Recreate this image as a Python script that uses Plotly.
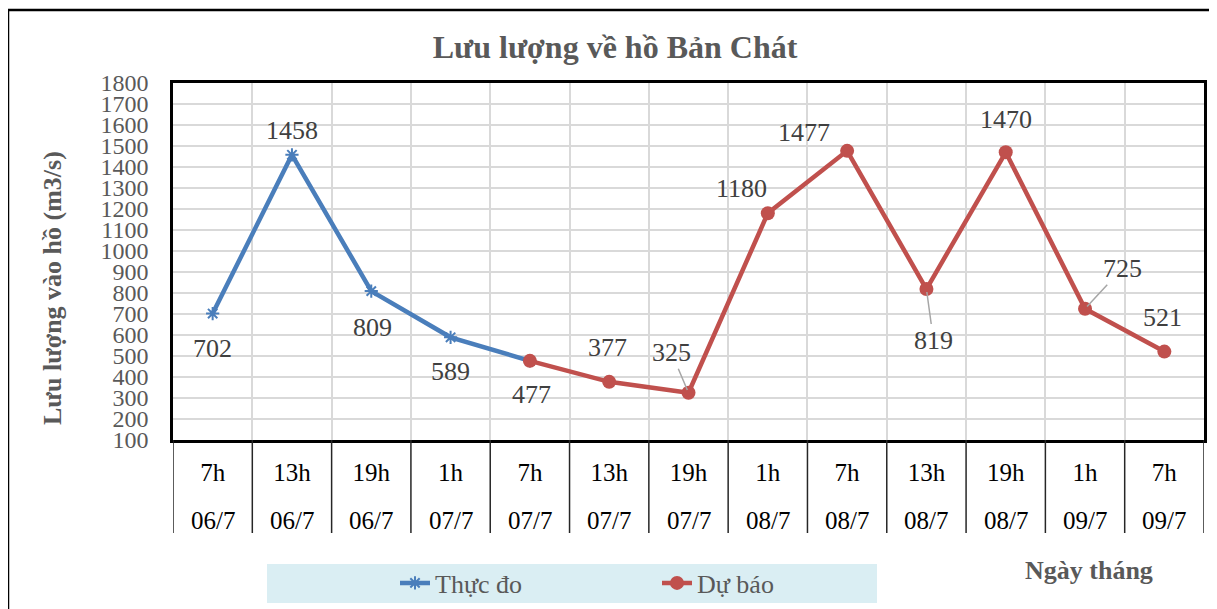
import plotly.graph_objects as go

# ---- data ----
hours = ["7h", "13h", "19h", "1h", "7h", "13h", "19h", "1h", "7h", "13h", "19h", "1h", "7h"]
dates = ["06/7", "06/7", "06/7", "07/7", "07/7", "07/7", "07/7", "08/7", "08/7", "08/7", "08/7", "09/7", "09/7"]
thuc_do_idx = [0, 1, 2, 3, 4]
thuc_do = [702, 1458, 809, 589, 477]
du_bao_idx = [4, 5, 6, 7, 8, 9, 10, 11, 12]
du_bao = [477, 377, 325, 1180, 1477, 819, 1470, 725, 521]
y_ticks = list(range(100, 1900, 100))

# ---- styling / geometry (page has an 8px body margin) ----
OFF = 8
W, H = 1217 - OFF, 609 - OFF
PL, PT, PR, PB = 173, 83, 1204, 440  # plot box in page pixels
L, T = PL - OFF, PT - OFF
R = W - (PR - OFF)
B = H - (PB - OFF)
PH = PB - PT
PW = PR - PL
FONT = "Liberation Serif"
BLUE = "#4A7EBB"
RED = "#C0504D"

def px_x(p):
    return (p - PL) / PW

def px_y(p):
    return (PB - p) / PH

fig = go.Figure()
fig.add_trace(go.Scatter(
    x=thuc_do_idx, y=thuc_do, mode="lines+markers", name="Thực đo",
    line=dict(color=BLUE, width=4.5),
    marker=dict(symbol="asterisk-open", size=11, line=dict(color=BLUE, width=2), color=BLUE),
))
fig.add_trace(go.Scatter(
    x=du_bao_idx, y=du_bao, mode="lines+markers", name="Dự báo",
    line=dict(color=RED, width=4.5),
    marker=dict(symbol="circle", size=14, color=RED),
))

# label offsets (screen px: dx right, dy down); arrow = leader line
label_pos = {
    0: (0, 35, False), 1: (0, -24, False), 2: (1, 36, False), 3: (0, 34, False),
    4: (2, 34, False), 5: (-2, -34, False), 6: (-17, -40, True), 7: (-26, -25, False),
    8: (-43, -18, False), 9: (7, 51, True), 10: (0, -33, False), 11: (37, -40, True),
    12: (-2, -34, False),
}
all_idx = thuc_do_idx + du_bao_idx[1:]
all_val = thuc_do + du_bao[1:]
annotations = []
for i, v in zip(all_idx, all_val):
    dx, dy, arrow = label_pos[i]
    common = dict(x=i, y=v, xref="x", yref="y", text=str(v),
                  font=dict(family=FONT, size=26, color="#404040"))
    if arrow:
        annotations.append(dict(**common, showarrow=True, ax=dx, ay=dy, arrowhead=0,
                                arrowwidth=1.5, arrowcolor="#A6A6A6", standoff=3))
    else:
        annotations.append(dict(**common, showarrow=False, xshift=dx, yshift=-dy,
                                xanchor="center", yanchor="middle"))

# date row under hour labels
for i, d in enumerate(dates):
    annotations.append(dict(x=i, y=px_y(520), xref="x", yref="paper", text=d, showarrow=False,
                            xanchor="center", yanchor="middle",
                            font=dict(family=FONT, size=25, color="#000000")))

annotations.append(dict(x=px_x(52), y=px_y(288), xref="paper", yref="paper",
                        text="<b>Lưu lượng vào hồ (m3/s)</b>", textangle=-90, showarrow=False,
                        xanchor="center", yanchor="middle",
                        font=dict(family=FONT, size=26, color="#595959")))
annotations.append(dict(x=px_x(1089), y=px_y(570), xref="paper", yref="paper",
                        text="<b>Ngày tháng</b>", showarrow=False, xanchor="center", yanchor="middle",
                        font=dict(family=FONT, size=26, color="#595959")))

shapes = []
# outer chart border
shapes.append(dict(type="rect", xref="paper", yref="paper", x0=px_x(8), x1=1.2,
                   y0=-0.8, y1=px_y(10), line=dict(color="#000000", width=2.5), layer="below"))
# legend background
shapes.append(dict(type="rect", xref="paper", yref="paper", x0=px_x(267), x1=px_x(877),
                   y0=px_y(603), y1=px_y(564), fillcolor="#DAEEF3", line=dict(width=0), layer="below"))
# category separators below plot
for k in range(len(hours) + 1):
    shapes.append(dict(type="line", xref="x", yref="paper", x0=k - 0.5, x1=k - 0.5,
                       y0=0, y1=px_y(533), line=dict(color="#262626", width=1.5)))

fig.update_layout(
    width=W, height=H,
    margin=dict(l=L, r=R, t=T, b=B, autoexpand=False),
    paper_bgcolor="white", plot_bgcolor="white",
    title=dict(text="<b>Lưu lượng về hồ Bản Chát</b>", x=px_x(615), xref="paper", xanchor="center",
               y=1 - (47 - OFF) / H, yref="container", yanchor="middle",
               font=dict(family=FONT, size=32, color="#595959")),
    font=dict(family=FONT),
    showlegend=True,
    legend=dict(orientation="h", x=px_x(395), y=px_y(583), xanchor="left", yanchor="middle",
                bgcolor="rgba(0,0,0,0)", font=dict(family=FONT, size=26, color="#595959"),
                entrywidth=217, entrywidthmode="pixels"),
    annotations=annotations,
    shapes=shapes,
)
fig.update_xaxes(
    range=[-0.5, len(hours) - 0.5], tickmode="array", tickvals=list(range(len(hours))), ticktext=hours,
    showgrid=False, zeroline=False, ticks="", ticklabelstandoff=8, automargin=False,
    tickfont=dict(family=FONT, size=25, color="#000000"),
    showline=True, mirror=True, linecolor="#000000", linewidth=2.5,
    minor=dict(tickmode="array", tickvals=[k - 0.5 for k in range(len(hours) + 1)], showgrid=True,
               gridcolor="#D9D9D9", gridwidth=2, ticks=""),
)
fig.update_yaxes(
    range=[100, 1800], tickmode="array", tickvals=y_ticks, ticktext=[str(t) for t in y_ticks],
    showgrid=True, gridcolor="#D9D9D9", gridwidth=2, zeroline=False, ticks="", automargin=False,
    ticklabelstandoff=17, tickfont=dict(family=FONT, size=24, color="#595959"),
    showline=True, mirror=True, linecolor="#000000", linewidth=2.5,
)

fig.write_html("out.html")
